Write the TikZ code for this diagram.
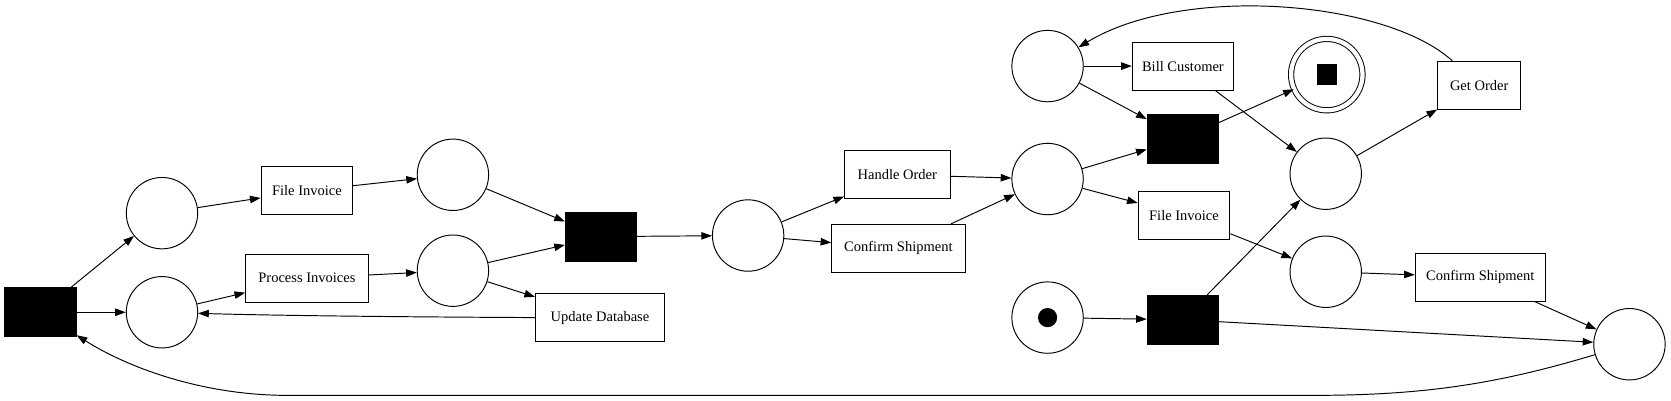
\documentclass[tikz,border=0pt]{standalone}
\usepackage{fontspec}
\setmainfont{Liberation Serif}
\usetikzlibrary{arrows.meta}

\begin{document}
\begin{tikzpicture}[x=1pt, y=-1pt, >={Triangle[length=10pt,width=7pt]}, line width=0.9pt,
		place/.style={draw, circle, minimum size=67pt, inner sep=0pt},
		silent/.style={draw, fill=black, minimum width=67pt, minimum height=46pt, inner sep=0pt},
		task/.style={draw, minimum height=45pt, inner sep=0pt, font=\fontsize{13.6}{15}\selectfont}]
			\useasboundingbox (0,0) rectangle (1568,376);
			% places
			\node[place] (p1) at (152,200) {};
			\node[place] (p2) at (152,293) {};
			\node[place] (p3) at (425,164) {};
			\node[place] (p4) at (425,254) {};
			\node[place] (p5) at (702,221) {};
			\node[place] (p6) at (983,168) {};
			\node[place] (p7) at (983,62) {};
			\node[place, double, double distance=4pt] (p8) at (1245,70) {};
			\node[place] (p9) at (1244,163) {};
			\node[place] (p10) at (1244,255) {};
			\node[place] (p11) at (983,298) {};
			\node[place] (p12) at (1529,323) {};
			\node[circle, fill=black, minimum size=18pt, inner sep=0pt] (tok) at (p11) {};
			\node[fill=black, minimum size=19pt, inner sep=0pt] (fin) at (p8) {};
			% transitions
			\node[silent] (t0) at (38,293) {};
			\node[silent] (t1) at (564,222) {};
			\node[silent] (t2) at (1110,130) {};
			\node[silent] (t3) at (1110,300) {};
			\node[task, minimum width=86pt] (fi1) at (288,179) {File Invoice};
			\node[task, minimum width=115pt] (pi) at (288,261) {Process Invoices};
			\node[task, minimum width=121pt] (ud) at (563,298) {Update Database};
			\node[task, minimum width=99pt] (ho) at (842,164) {Handle Order};
			\node[task, minimum width=125pt] (cs1) at (843,233) {Confirm Shipment};
			\node[task, minimum width=95pt] (bc) at (1110,62) {Bill Customer};
			\node[task, minimum width=86pt] (fi2) at (1111,202) {File Invoice};
			\node[task, minimum width=78pt] (go) at (1388,80) {Get Order};
			\node[task, minimum width=122pt] (cs2) at (1389,260) {Confirm Shipment};
			% arcs
			\foreach \a/\b in {t0/p1, t0/p2, p1/fi1, fi1/p3, p2/pi, pi/p4, p3/t1, p4/t1, p4/ud,
				t1/p5, p5/ho, p5/cs1, ho/p6, cs1/p6, p6/t2, p6/fi2, p7/bc, p7/t2, t2/p8,
				bc/p9, p9/go, fi2/p10, p10/cs2, cs2/p12, p11/t3, t3/p9, t3/p12}
				\draw[->] (\a) -- (\b);
			\draw[->] (ud.west) .. controls (300,297) and (220,295) .. (p2);
			\draw[->] (go) .. controls (1300,0) and (1110,-15) .. (p7);
			\draw[->] (p12) .. controls (1400,362) and (1330,371) .. (1230,371) -- (270,371) .. controls (190,371) and (120,345) .. (t0);
		\end{tikzpicture}
\end{document}
